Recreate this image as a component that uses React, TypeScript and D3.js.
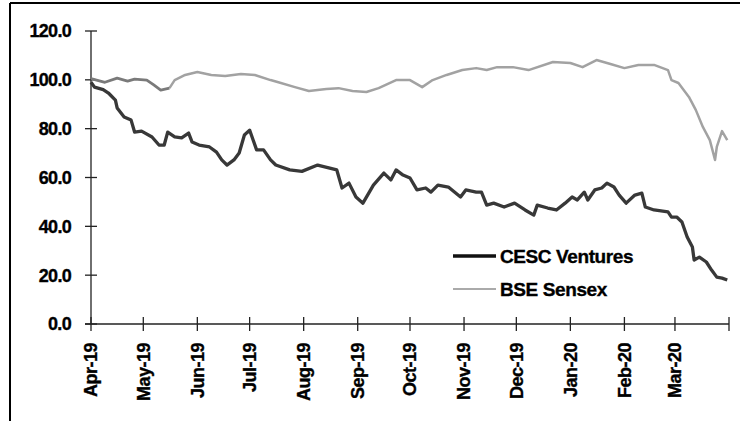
import React from 'react'
import * as d3 from 'd3'

const width = 740
const height = 421
const margin = { top: 31, right: 11, bottom: 97, left: 91 }

const yTicks = [0, 20, 40, 60, 80, 100, 120]
const monthLabels = ['Apr-19', 'May-19', 'Jun-19', 'Jul-19', 'Aug-19', 'Sep-19', 'Oct-19', 'Nov-19', 'Dec-19', 'Jan-20', 'Feb-20', 'Mar-20']

const cescDates = [
  '2019-04-01', '2019-04-03', '2019-04-08', '2019-04-11', '2019-04-15', '2019-04-16', '2019-04-20', '2019-04-24', '2019-04-26', '2019-04-30',
  '2019-05-06', '2019-05-10', '2019-05-13', '2019-05-15', '2019-05-19', '2019-05-23', '2019-05-27', '2019-05-29', '2019-06-02', '2019-06-08',
  '2019-06-12', '2019-06-15', '2019-06-18', '2019-06-22', '2019-06-25', '2019-06-28', '2019-07-01', '2019-07-02', '2019-07-05', '2019-07-09',
  '2019-07-13', '2019-07-16', '2019-07-24', '2019-07-31', '2019-08-09', '2019-08-20', '2019-08-23', '2019-08-27', '2019-08-31', '2019-09-04',
  '2019-09-10', '2019-09-16', '2019-09-20', '2019-09-23', '2019-09-27', '2019-10-01', '2019-10-05', '2019-10-10', '2019-10-13', '2019-10-17',
  '2019-10-23', '2019-10-30', '2019-11-02', '2019-11-08', '2019-11-11', '2019-11-14', '2019-11-18', '2019-11-24', '2019-11-30', '2019-12-06',
  '2019-12-11', '2019-12-13', '2019-12-19', '2019-12-24', '2019-12-29', '2020-01-02', '2020-01-05', '2020-01-09', '2020-01-11', '2020-01-15',
  '2020-01-19', '2020-01-22', '2020-01-26', '2020-01-29', '2020-02-02', '2020-02-07', '2020-02-11', '2020-02-13', '2020-02-18', '2020-02-26',
  '2020-02-28', '2020-03-02', '2020-03-05', '2020-03-08', '2020-03-11', '2020-03-12', '2020-03-15', '2020-03-19', '2020-03-22', '2020-03-25',
  '2020-03-28', '2020-03-31'
]
const cescValues = [
  99, 97, 96, 94.6, 91.7, 88.5, 84.8, 83.5, 78.6, 79,
  76.6, 73.3, 73.3, 78.6, 76.6, 76.2, 78.2, 74.5, 73.3, 72.5,
  70.4, 67.2, 65.1, 67.2, 70, 77.4, 79.4, 77.4, 71.3, 71.3,
  67.2, 65.1, 63.1, 62.5, 65.1, 63.1, 55.7, 57.7, 52, 49.5,
  56.9, 61.8, 59, 63.1, 61, 59.8, 54.9, 55.7, 54, 56.9,
  56.1, 52, 54.9, 54, 54, 48.7, 49.5, 47.9, 49.5, 46.7,
  44.6, 48.7, 47.5, 46.7, 49.5, 52, 50.8, 54, 50.8, 54.9,
  55.7, 57.7, 56.1, 52.8, 49.5, 52.8, 53.6, 47.9, 46.7, 45.9,
  43.8, 43.8, 41.8, 35.6, 31.5, 26.2, 27.4, 25.4, 22.1, 19.2,
  18.8, 18
]

const bseDates = [
  '2019-04-01', '2019-04-09', '2019-04-16', '2019-04-22', '2019-04-26', '2019-05-03', '2019-05-07', '2019-05-11', '2019-05-16', '2019-05-19',
  '2019-05-25', '2019-06-01', '2019-06-09', '2019-06-17', '2019-06-26', '2019-07-04', '2019-07-13', '2019-07-17', '2019-07-27', '2019-08-04',
  '2019-08-14', '2019-08-21', '2019-08-29', '2019-09-06', '2019-09-13', '2019-09-23', '2019-10-01', '2019-10-08', '2019-10-14', '2019-10-22',
  '2019-10-31', '2019-11-08', '2019-11-14', '2019-11-20', '2019-11-29', '2019-12-08', '2019-12-22', '2020-01-01', '2020-01-08', '2020-01-16',
  '2020-01-24', '2020-02-01', '2020-02-09', '2020-02-18', '2020-02-26', '2020-02-28', '2020-03-03', '2020-03-09', '2020-03-13', '2020-03-17',
  '2020-03-21', '2020-03-24', '2020-03-25', '2020-03-28', '2020-03-31'
]
const bseValues = [
  100.5, 99, 100.7, 99.5, 100.3, 99.9, 97.9, 95.8, 96.6, 99.9,
  102, 103.2, 102, 101.6, 102.4, 102, 99.9, 99.1, 97, 95.4,
  96.2, 96.6, 95.4, 95, 96.6, 99.9, 99.9, 97, 99.9, 102,
  104, 104.8, 104, 105.2, 105.2, 104, 107.3, 106.9, 105.2, 108.1,
  106.5, 104.8, 106.1, 106.1, 104, 99.9, 98.7, 93, 87.6, 80.7,
  75.3, 67.2, 72.5, 79, 75.3
]

const parse = d3.timeParse('%Y-%m-%d')
const cesc = cescDates.map((d, i) => ({ date: parse(d) as Date, value: cescValues[i] }))
const bse = bseDates.map((d, i) => ({ date: parse(d) as Date, value: bseValues[i] }))
// the scan shows the first few weeks of the sensex darker than the rest
const bseSplit = bse.findIndex(d => d.date >= new Date(2019, 4, 16))

const x = d3
  .scaleTime()
  .domain([new Date(2019, 3, 1), new Date(2020, 3, 1)])
  .range([margin.left, width - margin.right])

const y = d3
  .scaleLinear()
  .domain([0, 120])
  .range([height - margin.bottom, margin.top])

const line = d3
  .line<{ date: Date; value: number }>()
  .x(d => x(d.date))
  .y(d => y(d.value))

const monthTicks = x.ticks(d3.timeMonth.every(1) as d3.TimeInterval)
const font = 'Arial, "Liberation Sans", sans-serif'
const textProps = { fontFamily: font, fontWeight: 'bold', fill: '#000', stroke: '#000', strokeWidth: 0.35 }

const App = () => {
  const y0 = y(0)
  return (
    <svg width={width} height={height} style={{ position: 'absolute', left: 0, top: 0, background: '#fff' }}>
      {/* frame, only left and top edges */}
      <line x1={10} x2={10} y1={3} y2={height} stroke="#000" strokeWidth={2} />
      <line x1={10} x2={width} y1={3} y2={3} stroke="#000" strokeWidth={2} />

      {/* y axis */}
      <line x1={margin.left} x2={margin.left} y1={y(120)} y2={y0} stroke="#222" strokeWidth={1.3} />
      {yTicks.map(t => (
        <g key={t}>
          <line x1={margin.left - 6} x2={margin.left + 6} y1={y(t)} y2={y(t)} stroke="#222" strokeWidth={1.3} />
          <text {...textProps} x={71} y={y(t)} dy="0.36em" textAnchor="end" fontSize={18} letterSpacing={-0.7}>
            {t.toFixed(1)}
          </text>
        </g>
      ))}

      {/* x axis */}
      <line x1={margin.left - 6} x2={x.range()[1]} y1={y0} y2={y0} stroke="#222" strokeWidth={1.3} />
      {monthTicks.map((d, i) => (
        <g key={i}>
          <line x1={x(d)} x2={x(d)} y1={y0 - 7} y2={y0 + 7} stroke="#222" strokeWidth={1.3} />
          {monthLabels[i] && (
            <text
              {...textProps}
              transform={`translate(${x(d)},343) rotate(-90)`}
              dy="0.35em"
              textAnchor="end"
              fontSize={18}
              letterSpacing={-0.5}
            >
              {monthLabels[i]}
            </text>
          )}
        </g>
      ))}

      {/* series */}
      <path d={line(bse.slice(bseSplit)) ?? ''} fill="none" stroke="#a2a2a2" strokeWidth={2.5} strokeLinejoin="round" />
      <path d={line(bse.slice(0, bseSplit + 1)) ?? ''} fill="none" stroke="#7a7a7a" strokeWidth={2.8} strokeLinejoin="round" />
      <path d={line(cesc) ?? ''} fill="none" stroke="#383838" strokeWidth={3.3} strokeLinejoin="round" />

      {/* legend */}
      <line x1={453} x2={496} y1={256} y2={256} stroke="#111" strokeWidth={3.5} />
      <text {...textProps} x={500} y={263} fontSize={19} letterSpacing={-0.4}>CESC Ventures</text>
      <line x1={453} x2={496} y1={289} y2={289} stroke="#aaa" strokeWidth={2} />
      <text {...textProps} x={500} y={296} fontSize={19} letterSpacing={-0.4}>BSE Sensex</text>
    </svg>
  )
}

export default App
